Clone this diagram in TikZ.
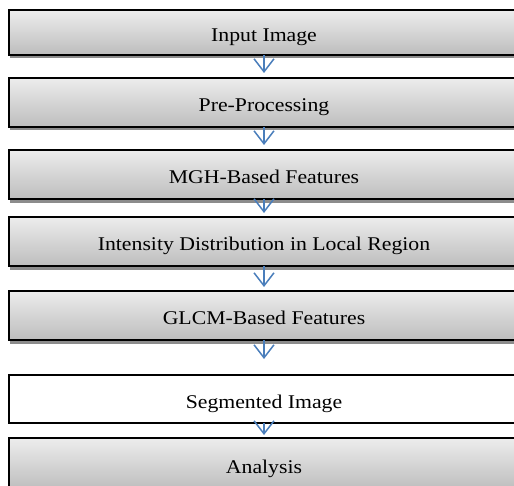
\documentclass[tikz,border=0pt]{standalone}
\usepackage{fontspec}
\setmainfont{Liberation Serif}[FakeStretch=1.12]
\usetikzlibrary{arrows.meta,shadows}
\definecolor{arrblue}{HTML}{4A7EBB}
\tikzset{
  stagebox/.style={draw=black, line width=1.3bp, rectangle, minimum width=510bp,
    inner sep=0pt, outer sep=0pt, text height=18bp, text depth=0pt,
    font=\fontsize{19.5}{22}\selectfont},
  graybox/.style={stagebox, top color=black!7, bottom color=black!26,
    drop shadow={shadow xshift=1.5bp, shadow yshift=-3.5bp, fill=black!45, opacity=1}},
  whitebox/.style={stagebox, fill=white},
  flowarrow/.style={draw=arrblue, line width=1.5bp, -{Straight Barb[length=13bp,width=20bp,line width=1.5bp]}}
}
\begin{document}
\begin{tikzpicture}[x=1bp,y=-1bp]
\useasboundingbox (0,0) rectangle (514,486);
\node[graybox, minimum height=45bp] (b1) at (264,32.5) {Input Image};
\node[graybox, minimum height=49bp] (b2) at (264,102.5) {Pre-Processing};
\node[graybox, minimum height=49bp] (b3) at (264,174.5) {MGH-Based Features};
\node[graybox, minimum height=49bp] (b4) at (264,241.5) {Intensity Distribution in Local Region};
\node[graybox, minimum height=49bp] (b5) at (264,315.5) {GLCM-Based Features};
\node[whitebox, minimum height=48bp] (b6) at (264,399) {Segmented Image};
\node[graybox, minimum height=52bp] (b7) at (264,464) {Analysis};
\draw[flowarrow, shorten >=5bp] (b1.south) -- (b2.north);
\draw[flowarrow, shorten >=5bp] (b2.south) -- (b3.north);
\draw[flowarrow, shorten >=4bp] (b3.south) -- (b4.north);
\draw[flowarrow, shorten >=4bp] (b4.south) -- (b5.north);
\draw[flowarrow, shorten >=16bp] (b5.south) -- (b6.north);
\draw[flowarrow, shorten >=3bp] (b6.south) -- (b7.north);
\end{tikzpicture}
\end{document}
